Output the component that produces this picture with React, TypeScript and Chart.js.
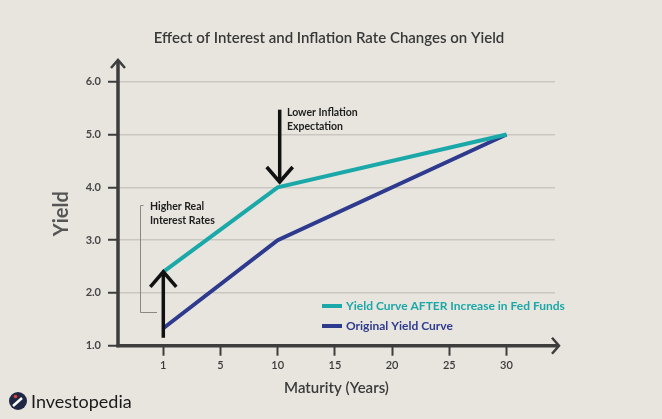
import React, { useEffect, useRef } from "react";
import { Chart, registerables } from "chart.js";

Chart.register(...registerables);

// ---- data ----
const chartTitle = "Effect of Interest and Inflation Rate Changes on Yield";
const xAxisTitle = "Maturity (Years)";
const yAxisTitle = "Yield";
const xLabels = ["1", "5", "10", "15", "20", "25", "30"];
const yTickValues = [1, 2, 3, 4, 5, 6];
const maturities = [1, 10, 30];
const afterYields = [2.4, 4.0, 5.0];
const originalYields = [1.33, 3.0, 5.0];
const seriesNames = ["Yield Curve AFTER Increase in Fed Funds", "Original Yield Curve"];
const upArrowNote = ["Higher Real", "Interest Rates"];
const downArrowNote = ["Lower Inflation", "Expectation"];
const upArrow = { maturity: 1, from: 1.15, to: 2.4 };
const downArrow = { maturity: 10, from: 5.47, to: 4.1 };
const brandName = "Investopedia";

// ---- styles ----
const BG = "#e8e5df";
const TEAL = "#1ba8a8";
const NAVY = "#2e3a8e";
const AXIS = "#3d3d3d";
const FONT = "Lato, 'Noto Sans', sans-serif";

const idx = (m: number) => xLabels.indexOf(String(m));

function arrowHead(ctx: CanvasRenderingContext2D, tx: number, ty: number, dx: number, dy: number, wing: number, back: number) {
  const px = -dy, py = dx;
  ctx.beginPath();
  ctx.moveTo(tx - dx * back + px * wing, ty - dy * back + py * wing);
  ctx.lineTo(tx, ty);
  ctx.lineTo(tx - dx * back - px * wing, ty - dy * back - py * wing);
  ctx.stroke();
}

const decorPlugin = {
  id: "decor",
  afterDraw(chart: any) {
    const ctx: CanvasRenderingContext2D = chart.ctx;
    const xs = chart.scales.x;
    const ys = chart.scales.y;
    const area = chart.chartArea;
    ctx.save();

    // title
    ctx.fillStyle = "#383838";
    ctx.font = `600 15px ${FONT}`;
    ctx.textAlign = "center";
    ctx.textBaseline = "middle";
    ctx.fillText(chartTitle, 329, 38);

    // axes with arrows
    ctx.strokeStyle = AXIS;
    ctx.lineWidth = 3.5;
    ctx.lineCap = "butt";
    ctx.beginPath();
    ctx.moveTo(area.left, area.bottom + 1.5);
    ctx.lineTo(area.left, 61);
    ctx.stroke();
    ctx.beginPath();
    ctx.moveTo(area.left - 1.5, area.bottom);
    ctx.lineTo(558, area.bottom);
    ctx.stroke();
    ctx.lineWidth = 2.5;
    arrowHead(ctx, area.left, 60, 0, -1, 7, 8);
    arrowHead(ctx, 559, area.bottom, 1, 0, 8, 7);

    // annotation arrows
    ctx.strokeStyle = "#111";
    ctx.lineWidth = 3.5;
    const ux = xs.getPixelForValue(idx(upArrow.maturity));
    const uy1 = ys.getPixelForValue(upArrow.from);
    const uy2 = ys.getPixelForValue(upArrow.to);
    ctx.beginPath();
    ctx.moveTo(ux, uy1);
    ctx.lineTo(ux, uy2 + 2);
    ctx.stroke();
    arrowHead(ctx, ux, uy2, 0, -1, 13, 15);

    const dxp = xs.getPixelForValue(idx(downArrow.maturity)) + 2;
    const dy1 = ys.getPixelForValue(downArrow.from);
    const dy2 = ys.getPixelForValue(downArrow.to);
    ctx.beginPath();
    ctx.moveTo(dxp, dy1);
    ctx.lineTo(dxp, dy2 - 2);
    ctx.stroke();
    arrowHead(ctx, dxp, dy2, 0, 1, 13, 15);

    // notes
    ctx.fillStyle = "#1e1e1e";
    ctx.font = `bold 10.5px ${FONT}`;
    ctx.textAlign = "left";
    ctx.textBaseline = "middle";
    ctx.fillText(downArrowNote[0], 287, 113);
    ctx.fillText(downArrowNote[1], 287, 126.5);
    ctx.fillText(upArrowNote[0], 150, 207);
    ctx.fillText(upArrowNote[1], 150, 220.5);

    // bracket
    ctx.strokeStyle = "#8a8883";
    ctx.lineWidth = 1;
    ctx.beginPath();
    ctx.moveTo(143.5, 205.5);
    ctx.lineTo(140.5, 205.5);
    ctx.lineTo(140.5, 312.5);
    ctx.lineTo(157, 312.5);
    ctx.stroke();

    // legend
    const ds = chart.data.datasets;
    ds.forEach((d: any, i: number) => {
      const y = 306 + i * 20;
      ctx.strokeStyle = d.borderColor;
      ctx.lineWidth = 4;
      ctx.beginPath();
      ctx.moveTo(322, y);
      ctx.lineTo(342, y);
      ctx.stroke();
      ctx.fillStyle = d.borderColor;
      ctx.font = `bold 12px ${FONT}`;
      ctx.textAlign = "left";
      ctx.textBaseline = "middle";
      ctx.fillText(d.label, 346, y);
    });

    // brand
    ctx.fillStyle = "#1f2744";
    ctx.beginPath();
    ctx.arc(18, 401, 9, 0, Math.PI * 2);
    ctx.fill();
    ctx.strokeStyle = "#ffffff";
    ctx.lineWidth = 2.5;
    ctx.beginPath();
    ctx.moveTo(13, 406);
    ctx.lineTo(22, 398);
    ctx.stroke();
    ctx.fillStyle = "#e0403a";
    ctx.beginPath();
    ctx.arc(15.5, 396.5, 1.8, 0, Math.PI * 2);
    ctx.fill();
    ctx.fillStyle = "#1a1a1a";
    ctx.font = `18px ${FONT}`;
    ctx.textAlign = "left";
    ctx.textBaseline = "middle";
    ctx.fillText(brandName, 31, 402);

    ctx.restore();
  },
};

export default function App() {
  const ref = useRef<HTMLCanvasElement | null>(null);

  useEffect(() => {
    const canvas = ref.current;
    if (!canvas) return;
    const chart = new Chart(canvas, {
      type: "line",
      data: {
        datasets: [
          {
            label: seriesNames[0],
            data: maturities.map((m, i) => ({ x: idx(m), y: afterYields[i] })),
            borderColor: TEAL,
            backgroundColor: TEAL,
            borderWidth: 4,
            pointRadius: 0,
            tension: 0,
          },
          {
            label: seriesNames[1],
            data: maturities.map((m, i) => ({ x: idx(m), y: originalYields[i] })),
            borderColor: NAVY,
            backgroundColor: NAVY,
            borderWidth: 4,
            pointRadius: 0,
            tension: 0,
          },
        ],
      },
      options: {
        animation: false,
        responsive: false,
        devicePixelRatio: 1,
        layout: { padding: { top: 81.7, right: 107, left: 0, bottom: 0 } },
        plugins: {
          legend: { display: false },
          title: { display: false },
          tooltip: { enabled: false },
        },
        scales: {
          x: {
            type: "linear",
            min: -0.792,
            max: 6.848,
            afterBuildTicks: (s: any) => {
              s.ticks = xLabels.map((_, i) => ({ value: i }));
            },
            afterFit: (s: any) => {
              s.height = 419 - 345.7;
            },
            ticks: {
              autoSkip: false,
              maxRotation: 0,
              padding: 3,
              color: "#3a3a3a",
              font: { family: FONT, size: 11, weight: "600" },
              callback: (v: any) => xLabels[v],
            },
            grid: {
              drawOnChartArea: false,
              drawTicks: true,
              tickLength: 10,
              tickWidth: 2,
              tickColor: AXIS,
              color: AXIS,
            },
            border: { display: false },
            title: {
              display: true,
              text: xAxisTitle,
              color: "#3a3a3a",
              font: { family: FONT, size: 15, weight: "600" },
              padding: { top: 0, bottom: 22 },
            },
          },
          y: {
            type: "linear",
            min: 1,
            max: 6,
            afterBuildTicks: (s: any) => {
              s.ticks = yTickValues.map((v) => ({ value: v }));
            },
            afterFit: (s: any) => {
              s.width = 118;
            },
            ticks: {
              padding: 7,
              color: "#474747",
              font: { family: FONT, size: 11, weight: "bold" },
              callback: (v: any) => Number(v).toFixed(1),
            },
            grid: {
              color: "#c9c6c0",
              lineWidth: 1.5,
              drawTicks: true,
              tickLength: 10,
              tickWidth: 2,
              tickColor: AXIS,
            },
            border: { display: false },
            title: {
              display: true,
              text: yAxisTitle,
              color: "#555555",
              font: { family: FONT, size: 20, weight: "bold" },
              padding: { top: 50, bottom: 0 },
            },
          },
        },
      },
      plugins: [decorPlugin],
    } as any);
    return () => chart.destroy();
  }, []);

  return (
    <div style={{ position: "fixed", left: 0, top: 0, width: 662, height: 419, background: BG }}>
      <canvas ref={ref} width={662} height={419} style={{ display: "block", width: 662, height: 419 }} />
    </div>
  );
}
